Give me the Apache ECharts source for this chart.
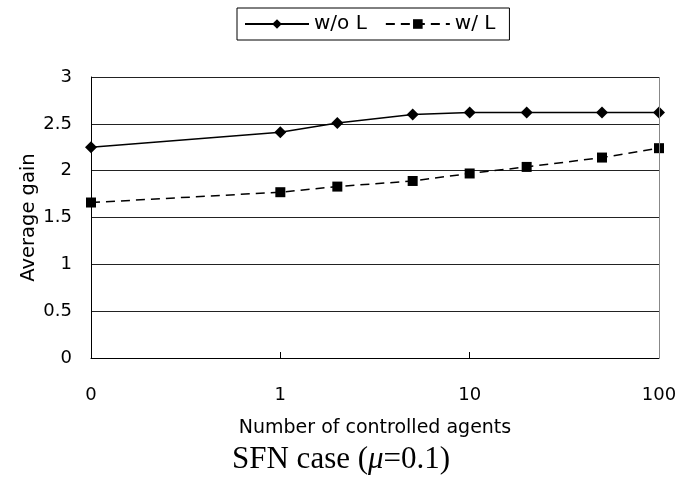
<!DOCTYPE html>
<html>
<head>
<meta charset="utf-8">
<script src="https://cdn.jsdelivr.net/npm/echarts@6/dist/echarts.min.js"></script>
<style>
  html, body { margin: 0; padding: 0; background: #fff; }
  #chart { width: 680px; height: 482px; }
</style>
</head>
<body>
<div id="chart"></div>
<script>
// Number of controlled agents (x) and average gain for each variant
const agents = [0, 1, 2, 5, 10, 20, 50, 100];
const gainWithoutL = [2.25, 2.41, 2.51, 2.60, 2.62, 2.62, 2.62, 2.62];
const gainWithL = [1.66, 1.77, 1.83, 1.89, 1.97, 2.04, 2.14, 2.24];
const xTickLabels = ['0', '1', '10', '100'];
const yTickLabels = ['0', '0.5', '1', '1.5', '2', '2.5', '3'];

// The log axis starts one decade below 1; the "0" case sits at that origin.
const X_ORIGIN = 0.1;
const toPoints = (ys) => agents.map((a, i) => [a === 0 ? X_ORIGIN : a, ys[i]]);

const sans = '"DejaVu Sans", "Liberation Sans", sans-serif';

const chart = echarts.init(document.getElementById('chart'), null, { renderer: 'canvas' });
chart.setOption({
  animation: false,
  backgroundColor: '#fff',
  title: {
    text: 'SFN case ({i|μ}=0.1)',
    left: 232,
    top: 444,
    padding: 0,
    textStyle: {
      fontFamily: '"Liberation Serif", "DejaVu Serif", serif',
      fontSize: 31,
      fontWeight: 'normal',
      color: '#000',
      rich: {
        i: { fontFamily: '"Liberation Serif", serif', fontStyle: 'italic', fontSize: 31, color: '#000' }
      }
    }
  },
  legend: {
    left: 237,
    top: 8,
    itemWidth: 64,
    itemHeight: 12,
    itemGap: 18,
    padding: [6, 14, 6, 7],
    borderColor: '#000',
    borderWidth: 1,
    textStyle: { fontFamily: sans, fontSize: 20, color: '#000' },
    data: ['w/o L', 'w/ L']
  },
  grid: { left: 91, right: 21, top: 77, bottom: 124, containLabel: false },
  xAxis: {
    type: 'log',
    logBase: 10,
    min: X_ORIGIN,
    max: 100,
    name: 'Number of controlled agents',
    nameLocation: 'middle',
    nameGap: 61,
    nameMoveOverlap: false,
    nameTextStyle: { fontFamily: sans, fontSize: 19, color: '#000' },
    axisLine: { show: true, lineStyle: { color: '#000', width: 1 } },
    axisTick: { show: true, inside: true, length: 6, lineStyle: { color: '#000' } },
    minorTick: { show: false },
    splitLine: { show: false },
    axisLabel: {
      margin: 28,
      fontFamily: sans,
      fontSize: 18,
      color: '#000',
      formatter: (v) => {
        const idx = Math.round(Math.log10(v) - Math.log10(X_ORIGIN));
        return xTickLabels[idx] !== undefined ? xTickLabels[idx] : '';
      }
    }
  },
  yAxis: {
    type: 'value',
    min: 0,
    max: 3,
    interval: 0.5,
    name: 'Average gain',
    nameLocation: 'middle',
    nameGap: 52,
    nameMoveOverlap: false,
    nameTextStyle: { fontFamily: sans, fontSize: 19.5, color: '#000' },
    axisLine: { show: true, lineStyle: { color: '#000', width: 1 } },
    axisTick: { show: false },
    splitLine: { show: true, lineStyle: { color: '#222', width: 1 } },
    axisLabel: {
      margin: 19,
      fontFamily: sans,
      fontSize: 18,
      color: '#000',
      formatter: (v) => yTickLabels[Math.round(v / 0.5)]
    }
  },
  series: [
    {
      name: 'w/o L',
      type: 'line',
      data: toPoints(gainWithoutL),
      symbol: 'diamond',
      symbolSize: 12,
      showAllSymbol: true,
      lineStyle: { color: '#000', width: 1.5, type: 'solid' },
      itemStyle: { color: '#000' },
      z: 3
    },
    {
      name: 'w/ L',
      type: 'line',
      data: toPoints(gainWithL),
      symbol: 'rect',
      symbolSize: 10,
      showAllSymbol: true,
      lineStyle: { color: '#000', width: 1.5, type: [9, 6] },
      itemStyle: { color: '#000' },
      z: 3
    },
    {
      // right-hand frame of the plotting area
      type: 'line',
      data: [],
      markLine: {
        silent: true,
        symbol: 'none',
        label: { show: false },
        lineStyle: { color: '#888', width: 1, type: 'solid' },
        data: [{ xAxis: 100 }]
      }
    }
  ]
});
</script>
</body>
</html>
